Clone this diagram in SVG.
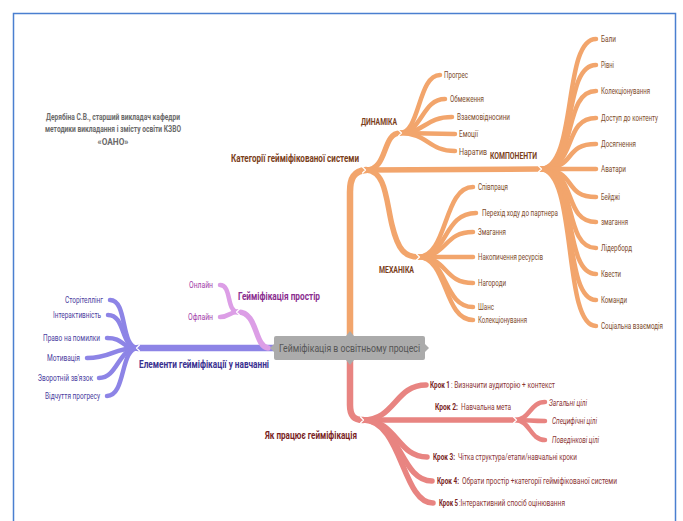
<svg xmlns="http://www.w3.org/2000/svg" width="683" height="521" viewBox="0 0 683 521">
  <defs>
    <style>
      text { font-family: Roboto, "Liberation Sans", sans-serif; }
      .br { fill: none; stroke-linecap: round; stroke-linejoin: round; }
      .t1 { stroke-width: 6.5; }
      .t2 { stroke-width: 5.5; }
      .t3 { stroke-width: 4.5; }
      .or { stroke: #f2a56c; }
      .rd { stroke: #e88481; }
      .pu { stroke: #8d84e6; }
      .pk { stroke: #dc9ee6; }
      .notch { fill: none; stroke: #ffffff; stroke-width: 1.2; stroke-linecap: round; stroke-linejoin: round; }
      .item { font-size: 8.5px; }
      .it { font-style: italic; }
      .bd { font-weight: bold; }
      .lbl { font-size: 10px; font-weight: bold; }
      .sub { font-size: 8.5px; font-weight: bold; }
      .c-or { fill: #7d4b2b; }
      .c-orb { fill: #7a3e1a; }
      .c-rd { fill: #8a3434; }
      .c-rdb { fill: #7a1f1f; }
      .c-pu { fill: #4b40a0; }
      .c-pub { fill: #3a3190; }
      .c-pk { fill: #a03aa8; }
      .c-pkb { fill: #8a2d8f; }
      .author { font-size: 8.5px; font-weight: bold; fill: #6a6a6a; text-anchor: middle; }
    </style>
    <path id="chevR" class="notch" d="M-1.5,-3 L1.5,0 L-1.5,3"/>
    <path id="chevL" class="notch" d="M1.5,-3 L-1.5,0 L1.5,3"/>
  </defs>

  <!-- page frame -->
  <rect x="13.5" y="13.5" width="662" height="530" fill="#ffffff" stroke="#4a7fd0" stroke-width="1.5"/>

  <!-- author note -->
  <g id="author">
    <text class="author" x="113" y="120" textLength="134" lengthAdjust="spacingAndGlyphs">Дерябіна С.В., старший викладач кафедри</text>
    <text class="author" x="113" y="132" textLength="136" lengthAdjust="spacingAndGlyphs">методики викладання і змісту освіти КЗВО</text>
    <text class="author" x="113" y="145" textLength="31" lengthAdjust="spacingAndGlyphs">«ОАНО»</text>
  </g>

  <!-- connectors -->
  <g id="connectors">
    <!-- orange: categories -->
    <path class="br t1 or" d="M350,336 L350,192 C350,178 354,171 366,170"/>
    <path class="br t2 or" d="M366,170 C388,170 382,133 400,133"/>
    <path class="br t2 or" d="M366,170 L540,169"/>
    <path class="br t2 or" d="M366,170 C386,171 386,200 392,225 C398,250 405,257 418,257"/>
    <!-- dynamics -->
    <path class="br t3 or" d="M400,133 C420,133 418,75 440,75"/>
    <path class="br t3 or" d="M400,133 C422,133 422,99 445,99"/>
    <path class="br t3 or" d="M400,133 C425,133 425,117 452,117"/>
    <path class="br t3 or" d="M400,133 C428,133 428,134 455,134"/>
    <path class="br t3 or" d="M400,133 C428,133 428,151 455,151"/>
    <!-- components -->
    <path class="br t3 or" d="M540,169 C578,169 562,39 596,39"/>
    <path class="br t3 or" d="M540,169 C578,169 562,65 596,65"/>
    <path class="br t3 or" d="M540,169 C578,169 562,91 596,91"/>
    <path class="br t3 or" d="M540,169 C578,169 562,118 596,118"/>
    <path class="br t3 or" d="M540,169 C578,169 562,144 596,144"/>
    <path class="br t3 or" d="M540,169 C570,169 570,169 596,169"/>
    <path class="br t3 or" d="M540,169 C578,169 562,197 596,197"/>
    <path class="br t3 or" d="M540,169 C578,169 562,222 596,222"/>
    <path class="br t3 or" d="M540,169 C578,169 562,248 596,248"/>
    <path class="br t3 or" d="M540,169 C578,169 562,274 596,274"/>
    <path class="br t3 or" d="M540,169 C578,169 562,300 596,300"/>
    <path class="br t3 or" d="M540,169 C578,169 562,326 596,326"/>
    <!-- mechanics -->
    <path class="br t3 or" d="M418,257 C448,257 443,187 473,187"/>
    <path class="br t3 or" d="M418,257 C448,257 443,213 476,213"/>
    <path class="br t3 or" d="M418,257 C448,257 443,232 473,232"/>
    <path class="br t3 or" d="M418,257 C448,257 443,257 473,257"/>
    <path class="br t3 or" d="M418,257 C448,257 443,283 473,283"/>
    <path class="br t3 or" d="M418,257 C448,257 443,307 473,307"/>
    <path class="br t3 or" d="M418,257 C448,257 443,320 473,320"/>

    <!-- red: how it works -->
    <path class="br t1 rd" d="M350,360 L350,405 C350,416 354,420 363,420"/>
    <path class="br t2 rd" d="M363,420 C395,420 395,385 426,385"/>
    <path class="br t2 rd" d="M363,420 L513,420"/>
    <path class="br t2 rd" d="M363,420 C397,420 397,457 427,457"/>
    <path class="br t2 rd" d="M363,420 C400,420 400,481 432,481"/>
    <path class="br t2 rd" d="M363,420 C402,420 402,503 433,503"/>
    <path class="br t3 rd" d="M515,420 C530,420 530,402 545,402"/>
    <path class="br t3 rd" d="M515,420 C530,420 530,421 545,421"/>
    <path class="br t3 rd" d="M515,420 C530,420 530,440 545,440"/>

    <!-- purple: elements -->
    <path class="br t1 pu" d="M273,348 L138,348"/>
    <path class="br t3 pu" d="M138,348 C120,348 128,300 110,300"/>
    <path class="br t3 pu" d="M138,348 C120,348 126,315 108,315"/>
    <path class="br t3 pu" d="M138,348 C120,348 125,338 107,338"/>
    <path class="br t3 pu" d="M138,348 C112,348 112,358 87,358"/>
    <path class="br t3 pu" d="M138,348 C118,348 118,378 99,378"/>
    <path class="br t3 pu" d="M138,348 C120,348 126,396 107,396"/>

    <!-- pink: space -->
    <path class="br t2 pk" d="M268,348 C254,346 258,312 238,312"/>
    <path class="br t3 pk" d="M238,312 C226,312 232,285 220,285"/>
    <path class="br t3 pk" d="M238,312 C228,312 230,317 220,317"/>

    <!-- node joints -->
    <use href="#chevR" x="364" y="170"/>
    <use href="#chevR" x="400" y="133"/>
    <use href="#chevR" x="540" y="169"/>
    <use href="#chevR" x="418" y="257"/>
    <use href="#chevR" x="362" y="420"/>
    <use href="#chevR" x="515" y="420"/>
    <use href="#chevL" x="138" y="348"/>
    <use href="#chevL" x="238" y="312"/>
  </g>

  <!-- central node -->
  <g id="root">
    <path d="M276,336 L346,336 L350,331 L354,336 L423,336 Q425,336 425,338 L425,344 L429,348 L425,352 L425,358 Q425,360 423,360 L354,360 L350,365 L346,360 L276,360 Q274,360 274,358 L274,352 L270,348 L274,344 L274,338 Q274,336 276,336 Z" fill="#ababab"/>
    <text x="279" y="352" font-size="11" fill="#555555" textLength="141" lengthAdjust="spacingAndGlyphs">Гейміфікація в освітньому процесі</text>
  </g>

  <!-- categories branch -->
  <g id="categories">
    <text class="lbl c-orb" x="231" y="162" textLength="128" lengthAdjust="spacingAndGlyphs">Категорії гейміфікованої системи</text>
  </g>
  <g id="dynamics">
    <text class="sub c-orb" x="361" y="125" textLength="36" lengthAdjust="spacingAndGlyphs">ДИНАМІКА</text>
    <text class="item c-or" x="444" y="78" textLength="24" lengthAdjust="spacingAndGlyphs">Прогрес</text>
    <text class="item c-or" x="450" y="102" textLength="34" lengthAdjust="spacingAndGlyphs">Обмеження</text>
    <text class="item c-or" x="457" y="120" textLength="53" lengthAdjust="spacingAndGlyphs">Взаємовідносини</text>
    <text class="item c-or" x="459" y="137" textLength="19" lengthAdjust="spacingAndGlyphs">Емоції</text>
    <text class="item c-or" x="459" y="155" textLength="28" lengthAdjust="spacingAndGlyphs">Наратив</text>
  </g>
  <g id="components">
    <text class="sub c-orb" x="490" y="159" textLength="47" lengthAdjust="spacingAndGlyphs">КОМПОНЕНТИ</text>
    <text class="item c-or" x="601" y="42" textLength="15" lengthAdjust="spacingAndGlyphs">Бали</text>
    <text class="item c-or" x="601" y="68" textLength="13" lengthAdjust="spacingAndGlyphs">Рівні</text>
    <text class="item c-or" x="601" y="94" textLength="49" lengthAdjust="spacingAndGlyphs">Колекціонування</text>
    <text class="item c-or" x="601" y="121" textLength="57" lengthAdjust="spacingAndGlyphs">Доступ до контенту</text>
    <text class="item c-or" x="601" y="147" textLength="35" lengthAdjust="spacingAndGlyphs">Досягнення</text>
    <text class="item c-or" x="601" y="172" textLength="25" lengthAdjust="spacingAndGlyphs">Аватари</text>
    <text class="item c-or" x="601" y="200" textLength="19" lengthAdjust="spacingAndGlyphs">Бейджі</text>
    <text class="item c-or" x="601" y="225" textLength="27" lengthAdjust="spacingAndGlyphs">змагання</text>
    <text class="item c-or" x="601" y="251" textLength="31" lengthAdjust="spacingAndGlyphs">Лідерборд</text>
    <text class="item c-or" x="601" y="277" textLength="20" lengthAdjust="spacingAndGlyphs">Квести</text>
    <text class="item c-or" x="601" y="303" textLength="26" lengthAdjust="spacingAndGlyphs">Команди</text>
    <text class="item c-or" x="601" y="329" textLength="62" lengthAdjust="spacingAndGlyphs">Соціальна взаємодія</text>
  </g>
  <g id="mechanics">
    <text class="sub c-orb" x="379" y="273" textLength="35" lengthAdjust="spacingAndGlyphs">МЕХАНІКА</text>
    <text class="item c-or" x="478" y="190" textLength="30" lengthAdjust="spacingAndGlyphs">Співпраця</text>
    <text class="item c-or" x="482" y="216" textLength="76" lengthAdjust="spacingAndGlyphs">Перехід ходу до партнера</text>
    <text class="item c-or" x="478" y="235" textLength="28" lengthAdjust="spacingAndGlyphs">Змагання</text>
    <text class="item c-or" x="478" y="260" textLength="65" lengthAdjust="spacingAndGlyphs">Накопичення ресурсів</text>
    <text class="item c-or" x="478" y="286" textLength="28" lengthAdjust="spacingAndGlyphs">Нагороди</text>
    <text class="item c-or" x="478" y="310" textLength="16" lengthAdjust="spacingAndGlyphs">Шанс</text>
    <text class="item c-or" x="478" y="323" textLength="49" lengthAdjust="spacingAndGlyphs">Колекціонування</text>
  </g>

  <!-- how it works branch -->
  <g id="how-it-works">
    <text class="lbl c-rdb" x="265" y="439" textLength="92" lengthAdjust="spacingAndGlyphs">Як працює гейміфікація</text>
    <text class="item bd c-rdb" x="430" y="388" textLength="20" lengthAdjust="spacingAndGlyphs">Крок 1</text>
    <text class="item c-rd" x="451" y="388" textLength="104" lengthAdjust="spacingAndGlyphs">: Визначити аудиторію + контекст</text>
    <text class="item bd c-rdb" x="435" y="410" textLength="23" lengthAdjust="spacingAndGlyphs">Крок 2:</text>
    <text class="item c-rd" x="461" y="410" textLength="50" lengthAdjust="spacingAndGlyphs">Навчальна мета</text>
    <text class="item bd c-rdb" x="433" y="460" textLength="22" lengthAdjust="spacingAndGlyphs">Крок 3:</text>
    <text class="item c-rd" x="458" y="460" textLength="119" lengthAdjust="spacingAndGlyphs">Чітка структура/етапи/навчальні кроки</text>
    <text class="item bd c-rdb" x="437" y="484" textLength="22" lengthAdjust="spacingAndGlyphs">Крок 4:</text>
    <text class="item c-rd" x="462" y="484" textLength="155" lengthAdjust="spacingAndGlyphs">Обрати простір +категорії гейміфікованої системи</text>
    <text class="item bd c-rdb" x="439" y="506" textLength="19" lengthAdjust="spacingAndGlyphs">Крок 5</text>
    <text class="item c-rd" x="459" y="506" textLength="106" lengthAdjust="spacingAndGlyphs">:Інтерактивний спосіб оцінювання</text>
  </g>
  <g id="goals">
    <text class="item it c-rd" x="549" y="406" textLength="38" lengthAdjust="spacingAndGlyphs">Загальні цілі</text>
    <text class="item it c-rd" x="552" y="424" textLength="45" lengthAdjust="spacingAndGlyphs">Специфічні цілі</text>
    <text class="item it c-rd" x="552" y="443" textLength="47" lengthAdjust="spacingAndGlyphs">Поведінкові цілі</text>
  </g>

  <!-- elements branch -->
  <g id="elements">
    <text class="lbl c-pub" x="139" y="368" textLength="130" lengthAdjust="spacingAndGlyphs">Елементи гейміфікації у навчанні</text>
    <text class="item c-pu" text-anchor="end" x="103" y="303" textLength="38" lengthAdjust="spacingAndGlyphs">Сторітеллінг</text>
    <text class="item c-pu" text-anchor="end" x="101" y="318" textLength="48" lengthAdjust="spacingAndGlyphs">Інтерактивність</text>
    <text class="item c-pu" text-anchor="end" x="100" y="341" textLength="57" lengthAdjust="spacingAndGlyphs">Право на помилки</text>
    <text class="item c-pu" text-anchor="end" x="80" y="361" textLength="33" lengthAdjust="spacingAndGlyphs">Мотивація</text>
    <text class="item c-pu" text-anchor="end" x="93" y="381" textLength="55" lengthAdjust="spacingAndGlyphs">Зворотній зв'язок</text>
    <text class="item c-pu" text-anchor="end" x="100" y="399" textLength="55" lengthAdjust="spacingAndGlyphs">Відчуття прогресу</text>
  </g>

  <!-- space branch -->
  <g id="space">
    <text class="lbl c-pkb" x="238" y="300" textLength="82" lengthAdjust="spacingAndGlyphs" font-size="9.5">Гейміфікація простір</text>
    <text class="item c-pk" text-anchor="end" x="213" y="288" textLength="24" lengthAdjust="spacingAndGlyphs">Онлайн</text>
    <text class="item c-pk" text-anchor="end" x="213" y="320" textLength="25" lengthAdjust="spacingAndGlyphs">Офлайн</text>
  </g>
</svg>
